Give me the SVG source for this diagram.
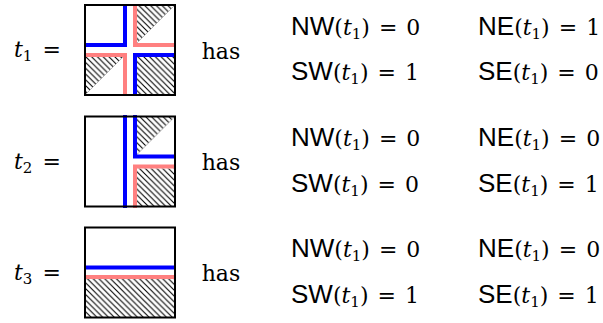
<svg xmlns="http://www.w3.org/2000/svg" width="603" height="323" viewBox="0 0 603 323">
<style>
.bg{fill:#fff}
.box{fill:none;stroke:#000;stroke-width:2}
.b{fill:none;stroke:#0000ff;stroke-width:4}
.p{fill:none;stroke:#ff8080;stroke-width:4}
.h{fill:url(#hatch)}
.d{stroke:#aaa;stroke-width:0.8}
.m{font-family:"DejaVu Serif",serif;font-size:22px;fill:#000}
.sf{font-family:"Liberation Sans",Arimo,sans-serif;font-size:26px}
.it{font-style:italic}
.sub{font-size:15px}
</style>
<defs>
<pattern id="hatch" patternUnits="userSpaceOnUse" width="5.8" height="5.8">
<path d="M-1,-1 L6.8,6.8 M-1,4.8 L1,6.8 M4.8,-1 L6.8,1" stroke="#000" stroke-width="1.1"/>
</pattern>
</defs>
<rect class="bg" x="0" y="0" width="603" height="323"/>

<g id="row1">
<text class="m" x="14" y="57"><tspan class="it">t</tspan><tspan class="sub" dy="4">1</tspan><tspan dy="-4" dx="10">=</tspan></text>
<g id="tile1">
<rect class="h" x="137" y="57" width="38" height="38"/>
<polygon class="h" points="137,5 175,5 137,43"/>
<line class="d" x1="175" y1="5" x2="137" y2="43"/>
<polygon class="h" points="85,57 123,57 85,95"/>
<line class="d" x1="123" y1="57" x2="85" y2="95"/>
<path class="b" d="M125,4 V45 H84"/>
<path class="p" d="M135,4 V45 H176"/>
<path class="p" d="M84,55 H125 V96"/>
<path class="b" d="M135,96 V55 H176"/>
<rect class="box" x="85" y="5" width="90" height="90"/>
</g>
<text class="m" x="201.7" y="58.5">has</text>
<text class="m" x="291" y="34.5"><tspan class="sf">NW</tspan>(<tspan class="it">t</tspan><tspan class="sub" dy="4">1</tspan><tspan dy="-4">)</tspan><tspan dx="9">=</tspan><tspan dx="9">0</tspan></text>
<text class="m" x="478" y="34.5"><tspan class="sf">NE</tspan>(<tspan class="it">t</tspan><tspan class="sub" dy="4">1</tspan><tspan dy="-4">)</tspan><tspan dx="9">=</tspan><tspan dx="9">1</tspan></text>
<text class="m" x="291" y="80"><tspan class="sf">SW</tspan>(<tspan class="it">t</tspan><tspan class="sub" dy="4">1</tspan><tspan dy="-4">)</tspan><tspan dx="9">=</tspan><tspan dx="9">1</tspan></text>
<text class="m" x="478" y="80"><tspan class="sf">SE</tspan>(<tspan class="it">t</tspan><tspan class="sub" dy="4">1</tspan><tspan dy="-4">)</tspan><tspan dx="9">=</tspan><tspan dx="9">0</tspan></text>
</g>

<g id="row2">
<text class="m" x="14" y="168.5"><tspan class="it">t</tspan><tspan class="sub" dy="4">2</tspan><tspan dy="-4" dx="10">=</tspan></text>
<g id="tile2">
<polygon class="h" points="137,116.5 175,116.5 137,154.5"/>
<line class="d" x1="175" y1="116.5" x2="137" y2="154.5"/>
<rect class="h" x="137" y="168.5" width="38" height="38"/>
<path class="b" d="M125,115 V208"/>
<path class="b" d="M135,115 V156.5 H176"/>
<path class="p" d="M176,166.5 H135 V208"/>
<rect class="box" x="85" y="116.5" width="90" height="90"/>
</g>
<text class="m" x="201.7" y="170">has</text>
<text class="m" x="291" y="146"><tspan class="sf">NW</tspan>(<tspan class="it">t</tspan><tspan class="sub" dy="4">1</tspan><tspan dy="-4">)</tspan><tspan dx="9">=</tspan><tspan dx="9">0</tspan></text>
<text class="m" x="478" y="146"><tspan class="sf">NE</tspan>(<tspan class="it">t</tspan><tspan class="sub" dy="4">1</tspan><tspan dy="-4">)</tspan><tspan dx="9">=</tspan><tspan dx="9">0</tspan></text>
<text class="m" x="291" y="191.5"><tspan class="sf">SW</tspan>(<tspan class="it">t</tspan><tspan class="sub" dy="4">1</tspan><tspan dy="-4">)</tspan><tspan dx="9">=</tspan><tspan dx="9">0</tspan></text>
<text class="m" x="478" y="191.5"><tspan class="sf">SE</tspan>(<tspan class="it">t</tspan><tspan class="sub" dy="4">1</tspan><tspan dy="-4">)</tspan><tspan dx="9">=</tspan><tspan dx="9">1</tspan></text>
</g>

<g id="row3">
<text class="m" x="14" y="279.5"><tspan class="it">t</tspan><tspan class="sub" dy="4">3</tspan><tspan dy="-4" dx="10">=</tspan></text>
<g id="tile3">
<rect class="h" x="85" y="279" width="90" height="38.5"/>
<path class="b" d="M84,267.5 H176"/>
<path class="p" d="M84,277 H176"/>
<rect class="box" x="85" y="227.5" width="90" height="90"/>
</g>
<text class="m" x="201.7" y="281">has</text>
<text class="m" x="291" y="257"><tspan class="sf">NW</tspan>(<tspan class="it">t</tspan><tspan class="sub" dy="4">1</tspan><tspan dy="-4">)</tspan><tspan dx="9">=</tspan><tspan dx="9">0</tspan></text>
<text class="m" x="478" y="257"><tspan class="sf">NE</tspan>(<tspan class="it">t</tspan><tspan class="sub" dy="4">1</tspan><tspan dy="-4">)</tspan><tspan dx="9">=</tspan><tspan dx="9">0</tspan></text>
<text class="m" x="291" y="302.5"><tspan class="sf">SW</tspan>(<tspan class="it">t</tspan><tspan class="sub" dy="4">1</tspan><tspan dy="-4">)</tspan><tspan dx="9">=</tspan><tspan dx="9">1</tspan></text>
<text class="m" x="478" y="302.5"><tspan class="sf">SE</tspan>(<tspan class="it">t</tspan><tspan class="sub" dy="4">1</tspan><tspan dy="-4">)</tspan><tspan dx="9">=</tspan><tspan dx="9">1</tspan></text>
</g>
</svg>
